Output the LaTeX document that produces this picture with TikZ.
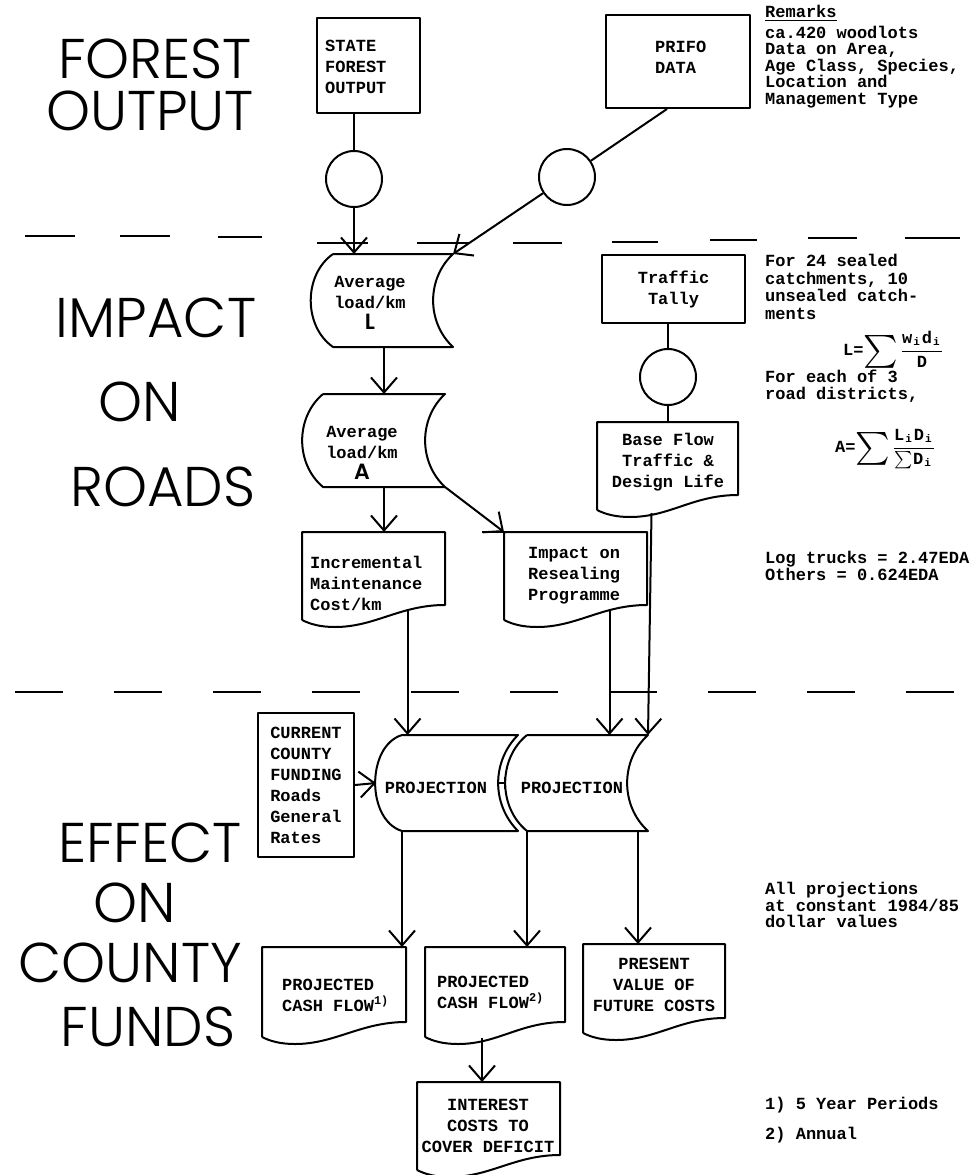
\documentclass[tikz,border=0pt]{standalone}
\usepackage{amsmath}
\usepackage{graphicx}
\usepackage{fontspec}
\setmonofont{Liberation Mono}
\newfontfamily\headfont{Poppins Light}
\usetikzlibrary{arrows.meta}
\tikzstyle{Line}=[line width=2pt,line join=round]
\tikzstyle{Arrow}=[Line,-{Straight Barb[length=15pt,width=26pt]}]
\tikzstyle{Sep}=[line width=2pt]
\tikzstyle{Type}=[font=\ttfamily\bfseries\fontsize{17}{21}\selectfont,inner sep=0pt]
\tikzstyle{Box}=[Type,draw,Line,align=left]
\tikzstyle{Frame}=[inner sep=0pt,outer sep=0pt]
\tikzstyle{Ring}=[circle,draw,Line,minimum size=56pt,inner sep=0pt]
\tikzstyle{Note}=[font=\ttfamily\bfseries\fontsize{17}{16.5}\selectfont,align=left,anchor=west,inner sep=0pt]
\tikzstyle{Head}=[font=\headfont\fontsize{56}{56}\selectfont,inner sep=0pt]
\newcommand{\Sub}[1]{\kern1pt\raisebox{-2pt}{\fontsize{11}{11}\selectfont #1}\kern2pt}
\newcommand{\Sigm}{\raisebox{-5pt}{\scalebox{1.9}{$\sum$}}}
\newcommand{\Num}[1]{\mbox{\rule[-5pt]{0pt}{5pt}#1}}
\newcommand{\Den}[1]{\mbox{\rule{0pt}{14pt}#1}}
% document symbol: wavy bottom edge
\newcommand{\DocFrame}[1]{%
  \draw[Line] ([yshift=-15pt]#1.south west) -- (#1.north west) -- (#1.north east)
    -- (#1.south east) .. controls +(-45,0) and +(40,0) .. ([shift={(33,22)}]#1.south west)
    .. controls +(-15,0) and +(8,4) .. ([yshift=-15pt]#1.south west);}
% stored data symbol: bulging left side, hollow right side
\newcommand{\StoreFrame}[3]{%
  \draw[Line] (#1.north west) -- (#1.north east) to[bend right=#3] (#1.south east)
    -- (#1.south west) to[bend left=#2] (#1.north west);}
\begin{document}
\begin{tikzpicture}[x=1pt,y=-1pt]
  \useasboundingbox (0,0) rectangle (977,1175);
  % section titles
  \node[Head](h1)at(155,59){FOREST};
  \node[Head](h2)at(150,111){OUTPUT};
  \node[Head](h3)at(156,318){IMPACT};
  \node[Head](h4)at(140,402){ON};
  \node[Head](h5)at(163,487){ROADS};
  \node[Head](h6)at(150,843){EFFECT};
  \node[Head](h7)at(135,903){ON};
  \node[Head](h8)at(130,963){COUNTY};
  \node[Head](h9)at(148,1027){FUNDS};
  % section borders
  \foreach \a/\b/\y in {25/75/236,120/170/236,218/262/237,317/368/243,417/470/243,
      513/562/243,612/658/242,710/757/240,808/857/238,905/960/238}
    \draw[Sep](\a,\y)--(\b,\y);
  \foreach \k in {0,...,9}
    \draw[Sep]({15+99*\k},692)--({63+99*\k},692);
  % forest output
  \node[Box,minimum width=103pt,minimum height=95pt](state)at(368.5,65.5){};
  \node[Type,anchor=west,align=left](state-t)at(325,67){STATE\\FOREST\\OUTPUT};
  \node[Box,minimum width=144pt,minimum height=93pt](prifo)at(678,61.5){};
  \node[Type,anchor=west,align=left](prifo-t)at(655,57){PRIFO\\DATA};
  \node[Ring](c1)at(354,179){};
  \node[Ring](c2)at(567,177){};
  % impact on roads
  \node[Frame,minimum width=120pt,minimum height=93pt](L)at(393,300.5){};
  \node[Type,align=center](L-t)at(370,303){Average\\load/km\\{\headfont\fontsize{22}{22}\selectfont L}};
  \node[Frame,minimum width=122pt,minimum height=93pt](A)at(384,440.5){};
  \node[Type,align=center](A-t)at(362,453){Average\\load/km\\{\headfont\fontsize{22}{22}\selectfont A}};
  \node[Box,align=center,minimum width=143pt,minimum height=68pt](traffic)at(673.5,289){Traffic\\Tally};
  \node[Ring](c3)at(668,377){};
  \node[Frame,minimum width=141pt,minimum height=73pt](base)at(667.5,458.5){};
  \node[Type,align=center](base-t)at(668,462){Base Flow\\Traffic \&\\Design Life};
  \node[Frame,minimum width=143pt,minimum height=73pt](inc)at(373.5,568.5){};
  \node[Type,anchor=west,align=left](inc-t)at(310,583){Incremental\\Maintenance\\Cost/km};
  \node[Frame,minimum width=143pt,minimum height=73pt](imp)at(575.5,568.5){};
  \node[Type,anchor=west,align=left](imp-t)at(528,576){Impact on\\Resealing\\Programme};
  % effect on county funds
  \node[Box,minimum width=96pt,minimum height=144pt](cur)at(306,785){CURRENT\\COUNTY\\FUNDING\\Roads\\General\\Rates};
  \node[Frame,minimum width=116pt,minimum height=96pt](p1)at(460,783){};
  \node[Type](p1-t)at(436,788){PROJECTION};
  \node[Frame,minimum width=121pt,minimum height=96pt](p2)at(587.5,783){};
  \node[Type](p2-t)at(572,788){PROJECTION};
  \node[Frame,minimum width=144pt,minimum height=75pt](cf1)at(334,984.5){};
  \node[Type,anchor=west,align=left](cf1-t)at(282,995){PROJECTED\\CASH FLOW\textsuperscript{1)}};
  \node[Frame,minimum width=140pt,minimum height=75pt](cf2)at(495,984.5){};
  \node[Type,anchor=west,align=left](cf2-t)at(437,992){PROJECTED\\CASH FLOW\textsuperscript{2)}};
  \node[Frame,minimum width=142pt,minimum height=74pt](pv)at(654,981){};
  \node[Type,align=center](pv-t)at(654,985){PRESENT\\VALUE OF\\FUTURE COSTS};
  \node[Frame,minimum width=143pt,minimum height=73pt](int)at(488.5,1118.5){};
  \node[Type,align=center](int-t)at(488,1126){INTEREST\\COSTS TO\\COVER DEFICIT};
  % outlines
  \StoreFrame{L}{55}{47}
  \StoreFrame{A}{50}{47}
  \StoreFrame{p1}{73}{45}
  \StoreFrame{p2}{51}{48}
  \DocFrame{base}
  \DocFrame{inc}
  \DocFrame{imp}
  \DocFrame{cf1}
  \DocFrame{cf2}
  \DocFrame{pv}
  \DocFrame{int}
  \draw[Line](imp.north west)--++(-22,0);
  % flow lines
  \coordinate(prifo-out)at([xshift=-11pt]prifo.south);
  \coordinate(base-out)at([shift={(-16,18)}]base.south);
  \coordinate(inc-out)at([shift={(34,6)}]inc.south);
  \coordinate(imp-out)at([shift={(34,6)}]imp.south);
  \coordinate(p1-in)at([xshift=-26pt]p1.west);
  \coordinate(p1-r)at([xshift=-19pt]p1.east);
  \coordinate(p2-l)at([xshift=-21pt]p2.west);
  \coordinate(p2-out)at([xshift=-10pt]p2.south east);
  \coordinate(cf2-out)at([shift={(-13,16)}]cf2.south);
  \draw[Line](c1 |- state.south)--(c1);
  \draw[Arrow](c1)--(c1 |- L.north);
  \draw[Line](prifo-out)--(c2);
  \draw[Arrow](c2)--(L.north east);
  \draw[Arrow](L.south -| A.north)--(A.north);
  \draw[Arrow](A.south)--(A.south |- inc.north);
  \draw[Arrow](A.south east)--(imp.north west);
  \draw[Line](c3 |- traffic.south)--(c3);
  \draw[Line](c3)--(c3 |- base.north);
  \draw[Arrow](base-out)--(p2.north east);
  \draw[Arrow](inc-out)--(inc-out |- p1.north);
  \draw[Arrow](imp-out)--(imp-out |- p2.north);
  \draw[Arrow](cur.east)--(p1-in);
  \draw[Line,-{Bar[width=12pt]}](p1-r)--(p2-l);
  \draw[Arrow](p1.south west)--(p1.south west |- cf1.north);
  \draw[Arrow](p2.south west)--(p2.south west |- cf2.north);
  \draw[Arrow](p2-out)--(p2-out |- pv.north);
  \draw[Arrow](cf2-out)--(cf2-out |- int.north);
  % remarks column
  \node[Note](rem-h)at(765,13){\underline{Remarks}};
  \node[Note](rem)at(765,67){ca.420 woodlots\\Data on Area,\\Age Class, Species,\\Location and\\Management Type};
  \node[Note,font=\ttfamily\bfseries\fontsize{17}{17.5}\selectfont](seal)at(765,287){For 24 sealed\\catchments, 10\\unsealed catch-\\ments};
  \node[Note,anchor=center](eqL)at(893,350){L=\Sigm\,$\dfrac{\Num{w\Sub{i}d\Sub{i}}}{\Den{D}}$};
  \node[Note](dist)at(765,386){For each of 3\\road districts,};
  \node[Note,anchor=center](eqA)at(885,449){A=\Sigm\,$\dfrac{\Num{L\Sub{i}D\Sub{i}}}{\Den{$\sum$D\Sub{i}}}$};
  \node[Note](eda)at(765,566){Log trucks = 2.47EDA\\Others = 0.624EDA};
  \node[Note](cst)at(765,905){All projections\\at constant 1984/85\\dollar values};
  \node[Note](fn1)at(765,1105){1) 5 Year Periods};
  \node[Note](fn2)at(765,1135){2) Annual};
\end{tikzpicture}
\end{document}
